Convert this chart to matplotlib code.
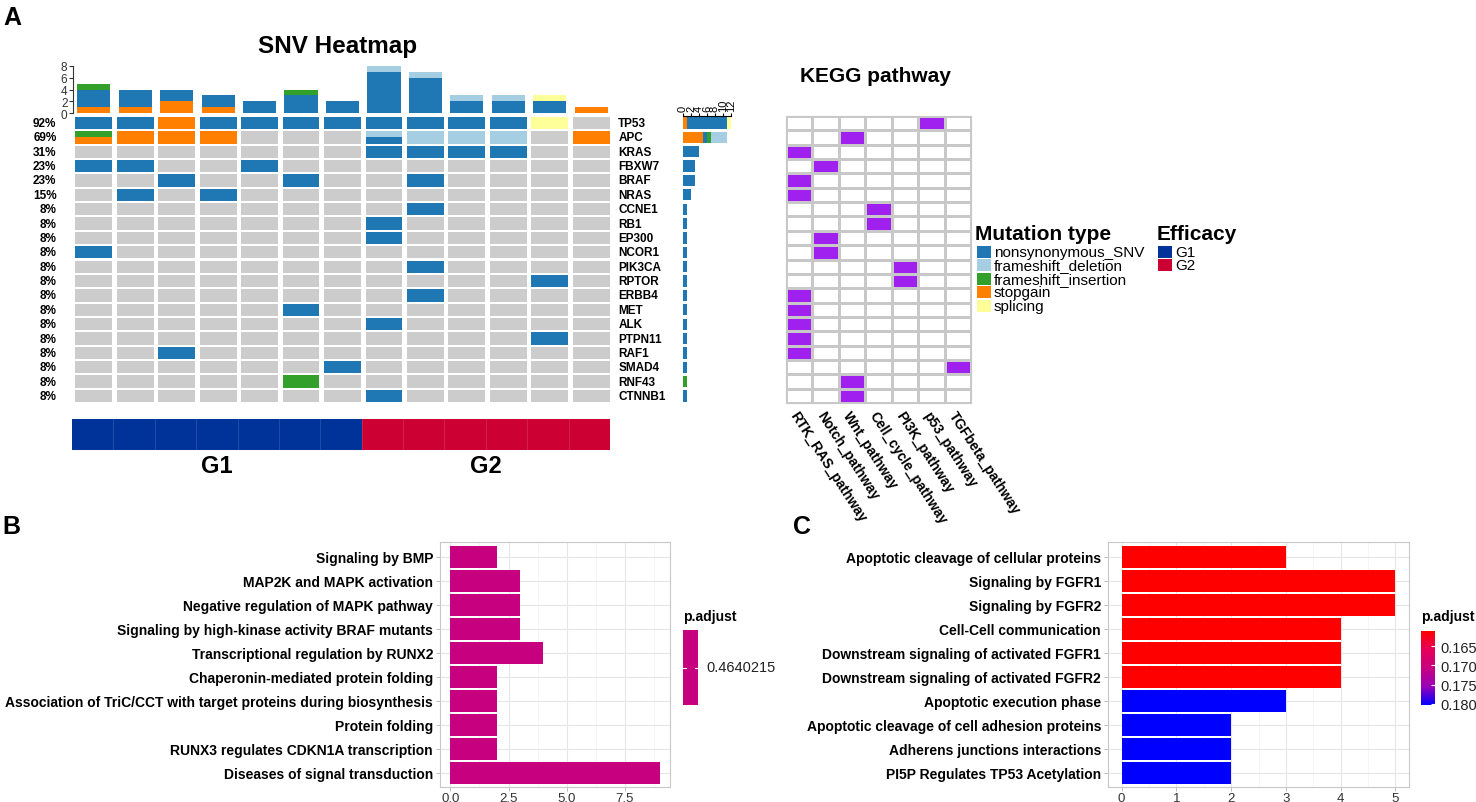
import numpy as np
import matplotlib
matplotlib.use("Agg")
import matplotlib.pyplot as plt
from matplotlib.patches import Rectangle
from matplotlib.colors import LinearSegmentedColormap, ListedColormap, Normalize
from matplotlib.cm import ScalarMappable

plt.rcParams['font.family'] = ['Liberation Sans', 'DejaVu Sans']

# ---------------- data ----------------
genes = ["TP53", "APC", "KRAS", "FBXW7", "BRAF", "NRAS", "CCNE1", "RB1", "EP300",
         "NCOR1", "PIK3CA", "RPTOR", "ERBB4", "MET", "ALK", "PTPN11", "RAF1",
         "SMAD4", "RNF43", "CTNNB1"]
n_samples = 13
efficacy = ["G1"] * 7 + ["G2"] * 6

# N nonsynonymous_SNV, D frameshift_deletion, I frameshift_insertion,
# S stopgain, P splicing, - none (two letters = split cell, first on top)
calls = [
    "N N S N N N N N N N N P -",
    "IS S S S - - - DN D D D - S",
    "- - - - - - - N N N N - -",
    "N N - - N - - - - - - - -",
    "- - N - - N - - N - - - -",
    "- N - N - - - - - - - - -",
    "- - - - - - - - N - - - -",
    "- - - - - - - N - - - - -",
    "- - - - - - - N - - - - -",
    "N - - - - - - - - - - - -",
    "- - - - - - - - N - - - -",
    "- - - - - - - - - - - N -",
    "- - - - - - - - N - - - -",
    "- - - - - N - - - - - - -",
    "- - - - - - - N - - - - -",
    "- - - - - - - - - - - N -",
    "- - N - - - - - - - - - -",
    "- - - - - - N - - - - - -",
    "- - - - - I - - - - - - -",
    "- - - - - - - N - - - - -",
]
mut_codes = ["N", "D", "I", "S", "P"]
mut_names = ["nonsynonymous_SNV", "frameshift_deletion", "frameshift_insertion",
             "stopgain", "splicing"]
mut_colors = {"N": "#1F78B4", "D": "#A6CEE3", "I": "#33A02C", "S": "#FF7F00", "P": "#FFFF99"}
stack_order = ["S", "N", "I", "D", "P"]

pathways = ["RTK_RAS_pathway", "Notch_pathway", "Wnt_pathway", "Cell_cycle_pathway",
            "PI3K_pathway", "p53_pathway", "TGFbeta_pathway"]
gene_pathway = ["p53_pathway", "Wnt_pathway", "RTK_RAS_pathway", "Notch_pathway",
                "RTK_RAS_pathway", "RTK_RAS_pathway", "Cell_cycle_pathway",
                "Cell_cycle_pathway", "Notch_pathway", "Notch_pathway", "PI3K_pathway",
                "PI3K_pathway", "RTK_RAS_pathway", "RTK_RAS_pathway", "RTK_RAS_pathway",
                "RTK_RAS_pathway", "RTK_RAS_pathway", "TGFbeta_pathway", "Wnt_pathway",
                "Wnt_pathway"]

terms_b = ["Signaling by BMP", "MAP2K and MAPK activation", "Negative regulation of MAPK pathway",
           "Signaling by high-kinase activity BRAF mutants", "Transcriptional regulation by RUNX2",
           "Chaperonin-mediated protein folding",
           "Association of TriC/CCT with target proteins during biosynthesis",
           "Protein folding", "RUNX3 regulates CDKN1A transcription",
           "Diseases of signal transduction"]
count_b = [2, 3, 3, 3, 4, 2, 2, 2, 2, 9]
padj_b = 0.4640215

terms_c = ["Apoptotic cleavage of cellular proteins", "Signaling by FGFR1", "Signaling by FGFR2",
           "Cell-Cell communication", "Downstream signaling of activated FGFR1",
           "Downstream signaling of activated FGFR2", "Apoptotic execution phase",
           "Apoptotic cleavage of cell adhesion proteins", "Adherens junctions interactions",
           "PI5P Regulates TP53 Acetylation"]
count_c = [3, 5, 5, 4, 4, 4, 3, 2, 2, 2]
padj_c = [0.1611, 0.1611, 0.1611, 0.1611, 0.1611, 0.1611, 0.1803, 0.1803, 0.1803, 0.1803]

# ---------------- figure ----------------
W, H = 1476, 803
fig = plt.figure(figsize=(W / 100, H / 100), dpi=100)


def px_axes(x0, y0, x1, y1, **kw):
    return fig.add_axes([x0 / W, 1 - y1 / H, (x1 - x0) / W, (y1 - y0) / H], **kw)


cells = [row.split() for row in calls]
n_genes = len(genes)
row_top, row_bot = 116.8, 404.2
col_left, col_right = 73, 612

# oncoplot cells
ax_h = px_axes(col_left, row_top, col_right, row_bot)
ax_h.set_xlim(0, n_samples)
ax_h.set_ylim(n_genes, 0)
ax_h.axis("off")
cw, ch = 0.89, 0.86
for i in range(n_genes):
    for j in range(n_samples):
        x0 = j + (1 - cw) / 2
        y0 = i + (1 - ch) / 2
        code = cells[i][j]
        if code == "-":
            ax_h.add_patch(Rectangle((x0, y0), cw, ch, color="#CCCCCC", lw=0))
        else:
            part = ch / len(code)
            for k, c in enumerate(code):
                ax_h.add_patch(Rectangle((x0, y0 + k * part), cw, part, color=mut_colors[c], lw=0))

# left percent / right gene labels
for i, g in enumerate(genes):
    n_mut = sum(1 for c in cells[i] if c != "-")
    pct = int(round(100 * n_mut / n_samples))
    ax_h.text(-0.4, i + 0.5, f"{pct}%", ha="right", va="center", fontsize=8.5,
              fontweight="bold")
    ax_h.text(n_samples + 0.15, i + 0.5, g, ha="left", va="center", fontsize=8.5,
              fontweight="bold")

# top bar: mutations per sample
ax_t = px_axes(col_left, 66.7, col_right, 114.3)
ax_t.set_xlim(0, n_samples)
ax_t.set_ylim(0, 8)
bottom = np.zeros(n_samples)
for c in stack_order:
    vals = np.array([sum(cells[i][j].count(c) for i in range(n_genes))
                     for j in range(n_samples)], dtype=float)
    ax_t.bar(np.arange(n_samples) + 0.5, vals, width=0.8, bottom=bottom,
             color=mut_colors[c], lw=0)
    bottom += vals
for s in ["top", "right", "bottom"]:
    ax_t.spines[s].set_visible(False)
ax_t.spines["left"].set_color("#333333")
ax_t.spines["left"].set_linewidth(0.8)
ax_t.set_xticks([])
ax_t.set_yticks([0, 2, 4, 6, 8])
ax_t.tick_params(axis="y", labelsize=8.5, length=3, pad=1, colors="#333333")
ax_t.patch.set_alpha(0)

# right bar: mutations per gene
ax_r = px_axes(683, row_top, 731, row_bot)
ax_r.set_xlim(0, 12)
ax_r.set_ylim(n_genes, 0)
left = np.zeros(n_genes)
for c in stack_order:
    vals = np.array([sum(cell.count(c) for cell in cells[i]) for i in range(n_genes)], dtype=float)
    ax_r.barh(np.arange(n_genes) + 0.5, vals, height=0.78, left=left,
              color=mut_colors[c], lw=0)
    left += vals
for s in ["bottom", "right", "left"]:
    ax_r.spines[s].set_visible(False)
ax_r.spines["top"].set_linewidth(0.8)
ax_r.xaxis.tick_top()
ax_r.set_xticks(range(0, 13, 2))
ax_r.set_xticklabels([str(v) for v in range(0, 13, 2)], rotation=90)
ax_r.tick_params(axis="x", labelsize=8, length=2.5, pad=1)
ax_r.set_yticks([])
ax_r.patch.set_alpha(0)

# efficacy annotation bar
eff_colors = {"G1": "#003399", "G2": "#CC0033"}
ax_e = px_axes(72, 420, 610, 451)
ax_e.set_xlim(0, n_samples)
ax_e.set_ylim(1, 0)
ax_e.axis("off")
for j, g in enumerate(efficacy):
    ax_e.add_patch(Rectangle((j, 0), 1, 1, color=eff_colors[g], lw=0))
    if j > 0:
        ax_e.plot([j, j], [0, 1], color="white", alpha=0.12, lw=0.8)
for g in ["G1", "G2"]:
    idx = [j for j, e in enumerate(efficacy) if e == g]
    ax_e.text(np.mean(idx) + 0.5, 1.5, g, ha="center", va="center", fontsize=17,
              fontweight="bold")

# KEGG pathway grid
ax_k = px_axes(786, row_top, 971, row_bot)
pw = np.zeros((n_genes, len(pathways)))
for i, p in enumerate(gene_pathway):
    pw[i, pathways.index(p)] = 1
ax_k.pcolormesh(pw, cmap=ListedColormap(["white", "#A020F0"]), edgecolors="#C8C8C8",
                linewidth=0.8)
ax_k.set_xlim(0, len(pathways))
ax_k.set_ylim(n_genes, 0)
ax_k.set_yticks([])
ax_k.set_xticks(np.arange(len(pathways)) + 0.5)
ax_k.set_xticklabels(pathways, rotation=-57, ha="left", va="top", rotation_mode="anchor",
                     fontsize=10, fontweight="bold")
ax_k.tick_params(axis="x", length=0, pad=4)
for s in ax_k.spines.values():
    s.set_color("#C8C8C8")
    s.set_linewidth(0.8)

# ---------------- enrichment bar plots ----------------
cmap_rb = LinearSegmentedColormap.from_list(
    "rb", ["#FF0000", "#E6005A", "#C7007F", "#9A00B8", "#0000FF"])


def enrich_panel(box, terms, counts, colors, xmax, xticks, xfmt):
    ax = px_axes(*box)
    y = np.arange(len(terms))
    ax.barh(y, counts, height=0.9, color=colors, lw=0, zorder=3)
    pad = xmax * 0.05
    ax.set_xlim(-pad, xmax + pad)
    ax.set_ylim(len(terms) - 0.4, -0.6)
    ax.set_yticks(y)
    ax.set_yticklabels(terms, fontsize=10, fontweight="bold")
    ax.set_xticks(xticks)
    ax.set_xticklabels([xfmt.format(v) for v in xticks])
    minor = [(a + b) / 2 for a, b in zip(xticks[:-1], xticks[1:])]
    minor.append(xticks[-1] + (xticks[1] - xticks[0]) / 2)
    for v in minor:
        if v < xmax + pad:
            ax.axvline(v, color="#F2F2F2", lw=0.5, zorder=1)
    for v in xticks:
        ax.axvline(v, color="#E6E6E6", lw=0.8, zorder=1)
    for v in y:
        ax.axhline(v, color="#E6E6E6", lw=0.8, zorder=1)
    ax.tick_params(axis="both", length=3, color="#B3B3B3", width=0.6)
    ax.tick_params(axis="x", labelsize=9.5, colors="#B3B3B3", labelcolor="#333333", pad=0.5)
    ax.tick_params(axis="y", pad=2)
    for s in ax.spines.values():
        s.set_color("#C8C8C8")
        s.set_linewidth(0.8)
    return ax


enrich_panel((440, 543.3, 670, 788.3), terms_b, count_b, cmap_rb(0.5), 9,
             [0, 2.5, 5.0, 7.5], "{:.1f}")
norm_c = Normalize(vmin=min(padj_c), vmax=max(padj_c))
enrich_panel((1108, 543.3, 1409, 788.3), terms_c, count_c,
             [cmap_rb(norm_c(p)) for p in padj_c], 5, [0, 1, 2, 3, 4, 5], "{:.0f}")

# colourbar C
cax = px_axes(1421, 632, 1435, 706)
cb = fig.colorbar(ScalarMappable(norm=norm_c, cmap=cmap_rb), cax=cax)
cb.outline.set_visible(False)
cax.invert_yaxis()
cb.set_ticks([0.165, 0.170, 0.175, 0.180])
cb.set_ticklabels(["0.165", "0.170", "0.175", "0.180"])
cax.tick_params(axis="y", direction="in", color="white", length=3, labelsize=10.5,
                labelcolor="#222222", pad=4)

# ---------------- overlay texts / legends ----------------
ov = fig.add_axes([0, 0, 1, 1], zorder=10)
ov.set_xlim(0, W)
ov.set_ylim(H, 0)
ov.axis("off")

ov.text(12, 18, "A", fontsize=18, fontweight="bold", ha="center", va="center")
ov.text(11, 527, "B", fontsize=18, fontweight="bold", ha="center", va="center")
ov.text(802, 527, "C", fontsize=18, fontweight="bold", ha="center", va="center")
ov.text(338, 47, "SNV Heatmap", fontsize=17.5, fontweight="bold", ha="center", va="center")
ov.text(875, 77, "KEGG pathway", fontsize=15, fontweight="bold", ha="center", va="center")

ov.text(975, 235, "Mutation type", fontsize=15, fontweight="bold", ha="left", va="center")
for k, (c, name) in enumerate(zip(mut_codes, mut_names)):
    yy = 253 + k * 13.4
    ov.add_patch(Rectangle((977, yy - 6), 14, 12, color=mut_colors[c], lw=0))
    ov.text(994, yy, name, fontsize=11, ha="left", va="center")
ov.text(1157, 235, "Efficacy", fontsize=15, fontweight="bold", ha="left", va="center")
for k, g in enumerate(["G1", "G2"]):
    yy = 253 + k * 13.4
    ov.add_patch(Rectangle((1158, yy - 6), 14, 12, color=eff_colors[g], lw=0))
    ov.text(1175, yy, g, fontsize=11, ha="left", va="center")

# colourbar B (single p.adjust value)
ov.text(683, 617, "p.adjust", fontsize=10, fontweight="bold", ha="left", va="center")
ov.add_patch(Rectangle((683, 631), 15, 75, color=cmap_rb(0.5), lw=0))
ov.plot([683, 686], [668.5, 668.5], color="white", lw=0.8)
ov.plot([695, 698], [668.5, 668.5], color="white", lw=0.8)
ov.text(706, 668.5, f"{padj_b:.7f}", fontsize=10.5, color="#222222", ha="left", va="center")
ov.text(1421, 617, "p.adjust", fontsize=10, fontweight="bold", ha="left", va="center")

fig.savefig("out.png", dpi=100, facecolor="white")
